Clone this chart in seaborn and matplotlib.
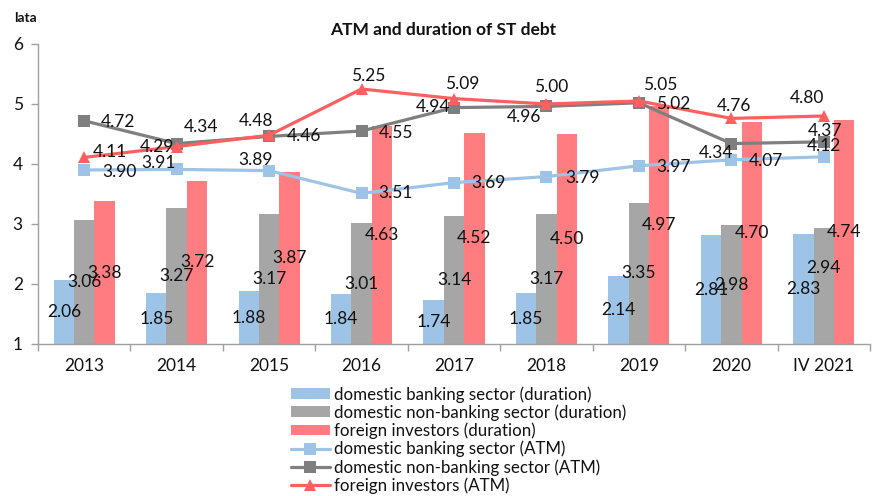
import matplotlib
matplotlib.use("Agg")
import matplotlib.pyplot as plt
from matplotlib.patches import Patch
from matplotlib.lines import Line2D
import numpy as np
import pandas as pd
import seaborn as sns

# ---- data -------------------------------------------------------------
periods = ["2013", "2014", "2015", "2016", "2017", "2018", "2019", "2020", "IV 2021"]

dur_bank = [2.06, 1.85, 1.88, 1.84, 1.74, 1.85, 2.14, 2.81, 2.83]
dur_nonbank = [3.06, 3.27, 3.17, 3.01, 3.14, 3.17, 3.35, 2.98, 2.94]
dur_foreign = [3.38, 3.72, 3.87, 4.63, 4.52, 4.50, 4.97, 4.70, 4.74]

atm_bank = [3.90, 3.91, 3.89, 3.51, 3.69, 3.79, 3.97, 4.07, 4.12]
atm_nonbank = [4.72, 4.34, 4.46, 4.55, 4.94, 4.96, 5.02, 4.34, 4.37]
atm_foreign = [4.11, 4.29, 4.48, 5.25, 5.09, 5.00, 5.05, 4.76, 4.80]

bar_names = ["domestic banking sector (duration)",
             "domestic non-banking sector (duration)",
             "foreign investors (duration)"]
line_names = ["domestic banking sector (ATM)",
              "domestic non-banking sector (ATM)",
              "foreign investors (ATM)"]

# ---- styling ----------------------------------------------------------
sns.set_theme(style="white")
plt.rcParams["font.family"] = ["Lato", "DejaVu Sans"]

bar_colors = ["#9DC3E6", "#A6A6A6", "#FF7C80"]
line_colors = ["#9DC3E6", "#7F7F7F", "#FF5F5F"]
line_markers = ["s", "s", "^"]
axis_gray = "#A0A0A0"

# vertical nudges (pixels) for the bar value labels, per series and period
bar_label_nudge = [
    [0] * 9,
    [0, 0, 0, 0, 0, 0, 0, 0, 18],
    [0] * 9,
]

# label offsets (pixels) for the ATM series, relative to each marker
atm_offsets = [
    [(35, -2), (-18, 6), (-14, 11), (34, 0), (35, 0), (36, -1), (35, -1), (35, -1), (0, 11)],
    [(34, -1), (24, 17), (35, 0), (34, -2), (-21, 1), (-22, -11), (34, -1), (-15, -9), (1, 11)],
    [(26, 5), (-20, 0), (-13, 14), (7, 13), (8, 15), (5, 17), (21, 16), (3, 12), (-17, 18)],
]

W, H = 891, 496
fig = plt.figure(figsize=(W / 100, H / 100), dpi=100)
ax = fig.add_axes([38 / W, 1 - 344 / H, 832 / W, 300 / H])

# ---- bars -------------------------------------------------------------
bars = pd.DataFrame({
    "period": [p for p in periods for _ in range(3)],
    "series": bar_names * len(periods),
    "value": [v for trio in zip(dur_bank, dur_nonbank, dur_foreign) for v in trio],
})
sns.barplot(data=bars, x="period", y="value", hue="series", order=periods,
            hue_order=bar_names, palette=bar_colors, saturation=1,
            width=0.66, linewidth=0, legend=False, ax=ax, zorder=2)

ymin, ymax = 1, 6
for cont, nudges in zip(ax.containers, bar_label_nudge):
    for patch, dy in zip(cont.patches, nudges):
        v = patch.get_height()
        ax.annotate(f"{v:.2f}", (patch.get_x() + patch.get_width() / 2, (ymin + v) / 2),
                    xytext=(0, dy), textcoords="offset pixels",
                    ha="center", va="center", fontsize=12.5,
                    color="#111111", zorder=6)

# ---- lines ------------------------------------------------------------
xpos = np.arange(len(periods))
for vals, name, col, mk, offs in zip([atm_bank, atm_nonbank, atm_foreign],
                                     line_names, line_colors, line_markers,
                                     atm_offsets):
    sns.lineplot(x=xpos, y=vals, color=col, marker=mk, markersize=8,
                 markeredgewidth=0, linewidth=2.3, ax=ax, legend=False,
                 zorder=4)
    for x, v, (dx, dy) in zip(xpos, vals, offs):
        ax.annotate(f"{v:.2f}", (x, v), xytext=(dx, dy),
                    textcoords="offset pixels", ha="center", va="center",
                    fontsize=12.5, color="#111111", zorder=6)

# ---- axes -------------------------------------------------------------
ax.set_xlim(-0.5, len(periods) - 0.5)
ax.set_ylim(ymin, ymax)
ax.set_xlabel("")
ax.set_ylabel("")
ax.set_yticks(range(1, 7))
ax.set_xticks(xpos)
ax.set_xticklabels(periods)
ax.set_xticks(np.arange(-0.5, len(periods)), minor=True)
ax.tick_params(axis="x", which="major", length=0, pad=10, labelsize=12.5,
               labelcolor="#111111")
ax.tick_params(axis="x", which="minor", length=5, width=1, color=axis_gray,
               direction="out", bottom=True)
ax.tick_params(axis="y", length=5, width=1, color=axis_gray, direction="out",
               left=True, pad=6, labelsize=12.5, labelcolor="#111111")
for side in ["top", "right"]:
    ax.spines[side].set_visible(False)
for side in ["left", "bottom"]:
    ax.spines[side].set_color(axis_gray)
    ax.spines[side].set_linewidth(1)
ax.grid(False)

# ---- texts ------------------------------------------------------------
fig.text(443 / W, 1 - 30 / H, "ATM and duration of ST debt", ha="center",
         va="center", fontsize=12.5, fontweight="bold", color="#111111")
fig.text(14 / W, 1 - 18 / H, "lata", ha="left", va="center", fontsize=10,
         fontweight="bold", color="#111111")

# ---- legend -----------------------------------------------------------
handles = [Patch(facecolor=c, edgecolor="none") for c in bar_colors]
handles += [Line2D([], [], color=c, marker=m, markersize=8, markeredgewidth=0,
                   linewidth=2.3) for c, m in zip(line_colors, line_markers)]
fig.legend(handles, bar_names + line_names, loc="upper left",
           bbox_to_anchor=(291 / W, 1 - 386 / H), frameon=False, fontsize=12.2,
           handlelength=2.3, handleheight=0.6, handletextpad=0.25,
           labelspacing=0.1, borderpad=0, borderaxespad=0,
           labelcolor="#111111")

fig.savefig("out.png", dpi=100)
